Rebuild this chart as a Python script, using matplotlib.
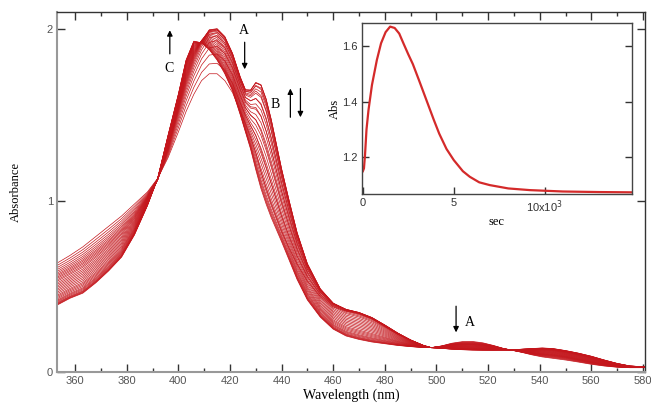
import numpy as np
import matplotlib.pyplot as plt

# wavelength grid (nm) and the three limiting spectra
wavelength = [353, 358, 363, 368, 373, 378, 383, 388, 392, 396, 400, 403, 406, 409,
              412, 415, 418, 421, 424, 426, 428, 430, 432, 434, 436, 438, 440, 443,
              446, 450, 455, 460, 465, 470, 475, 480, 485, 490, 495, 498, 502, 506,
              510, 514, 518, 522, 526, 529, 533, 537, 541, 545, 550, 555, 560, 565,
              570, 575, 581]

spec_A = [0.635, 0.68, 0.73, 0.79, 0.85, 0.91, 0.98, 1.05, 1.13, 1.25, 1.40, 1.52, 1.62, 1.70,
          1.74, 1.74, 1.70, 1.63, 1.52, 1.45, 1.37, 1.28, 1.17, 1.07, 0.98, 0.90, 0.82, 0.72,
          0.63, 0.53, 0.44, 0.38, 0.355, 0.34, 0.31, 0.265, 0.22, 0.185, 0.155, 0.142, 0.152, 0.168,
          0.177, 0.178, 0.17, 0.155, 0.137, 0.128, 0.115, 0.10, 0.088, 0.08, 0.07, 0.058, 0.045, 0.035,
          0.028, 0.025, 0.025]

spec_B = [0.57, 0.61, 0.655, 0.71, 0.77, 0.84, 0.92, 1.02, 1.12, 1.30, 1.52, 1.68, 1.82, 1.94,
          2.03, 2.05, 2.01, 1.91, 1.77, 1.70, 1.72, 1.80, 1.81, 1.73, 1.60, 1.44, 1.28, 1.07,
          0.87, 0.67, 0.51, 0.42, 0.38, 0.36, 0.33, 0.285, 0.235, 0.19, 0.155, 0.142, 0.15, 0.16,
          0.165, 0.165, 0.16, 0.15, 0.136, 0.128, 0.118, 0.108, 0.10, 0.095, 0.085, 0.07, 0.055, 0.042,
          0.032, 0.027, 0.027]

spec_C = [0.39, 0.43, 0.46, 0.52, 0.59, 0.67, 0.80, 0.97, 1.13, 1.38, 1.62, 1.82, 1.93, 1.92,
          1.88, 1.82, 1.74, 1.64, 1.50, 1.40, 1.30, 1.18, 1.07, 0.98, 0.90, 0.83, 0.76, 0.65,
          0.54, 0.42, 0.32, 0.25, 0.21, 0.19, 0.175, 0.165, 0.155, 0.148, 0.143, 0.142, 0.138, 0.133,
          0.13, 0.128, 0.127, 0.127, 0.128, 0.129, 0.133, 0.137, 0.14, 0.137, 0.125, 0.11, 0.092, 0.07,
          0.05, 0.035, 0.03]

# fraction of each species in every recorded trace
frac_A = [1.00, 0.80, 0.62, 0.47, 0.35, 0.25, 0.17, 0.11, 0.07, 0.04, 0.02, 0.01, 0, 0, 0, 0,
          0, 0, 0, 0, 0, 0, 0, 0, 0, 0, 0, 0, 0, 0, 0, 0]
frac_C = [0.00, 0.005, 0.01, 0.02, 0.035, 0.05, 0.07, 0.09, 0.12, 0.15, 0.19, 0.23, 0.28, 0.33,
          0.38, 0.43, 0.48, 0.53, 0.58, 0.63, 0.68, 0.72, 0.76, 0.80, 0.84, 0.87, 0.90, 0.93,
          0.95, 0.97, 0.985, 1.00]

# inset kinetic trace
time_s = [0, 60, 120, 200, 310, 500, 770, 1000, 1250, 1500, 1750, 2000, 2230, 2500, 2750, 3100,
          3500, 3900, 4200, 4600, 5000, 5500, 5880, 6400, 6980, 8000, 9180, 11000, 13000, 14800]
abs_t = [1.15, 1.16, 1.21, 1.30, 1.37, 1.46, 1.55, 1.61, 1.65, 1.67, 1.665, 1.645, 1.61, 1.57,
         1.535, 1.475, 1.405, 1.335, 1.285, 1.23, 1.19, 1.15, 1.13, 1.11, 1.10, 1.088, 1.082,
         1.077, 1.075, 1.074]

red = '#c4161c'
serif = ['Liberation Serif', 'DejaVu Serif']
sans = ['Liberation Sans', 'DejaVu Sans']

fig = plt.figure(figsize=(6.51, 4.04), dpi=100)
ax = fig.add_axes([0.0876, 0.0792, 0.9032, 0.891])

wl = np.array(wavelength)
sA, sB, sC = np.array(spec_A), np.array(spec_B), np.array(spec_C)
for a, c in zip(frac_A, frac_C):
    b = 1 - a - c
    ax.plot(wl, a * sA + b * sB + c * sC, color=red, lw=0.5)

ax.set_xlim(353, 580.8)
ax.set_ylim(0, 2.1)
ax.set_xticks(range(360, 581, 20))
ax.set_xticks(range(360, 581, 10), minor=True)
ax.set_yticks([0, 1, 2])
ax.tick_params(direction='in', top=True, right=True, length=6, width=1, colors='#333333',
               labelsize=8, labelcolor='#555555', pad=3)
ax.tick_params(which='minor', direction='in', top=True, length=3, width=1, colors='#333333')
for lab in ax.get_xticklabels() + ax.get_yticklabels():
    lab.set_family(sans)
for side in ['left', 'bottom']:
    ax.spines[side].set_color('#999999')
    ax.spines[side].set_linewidth(1.5)
for side in ['top', 'right']:
    ax.spines[side].set_color('#333333')
    ax.spines[side].set_linewidth(1.0)

ax.set_xlabel('Wavelength (nm)', family=serif, fontsize=10, labelpad=2)
ax.set_ylabel('Absorbance', family=serif, fontsize=9, labelpad=18)

arrow = dict(arrowstyle='-|>', color='black', lw=0.9, mutation_scale=8)
# C (up)
ax.annotate('', xy=(396.7, 2.01), xytext=(396.7, 1.84), arrowprops=arrow)
ax.text(396.5, 1.77, 'C', family=serif, fontsize=10, ha='center', va='center')
# A (down) near Soret
ax.annotate('', xy=(425.7, 1.75), xytext=(425.7, 1.94), arrowprops=arrow)
ax.text(425.5, 1.99, 'A', family=serif, fontsize=10, ha='center', va='center')
# B (up and down)
ax.text(437.7, 1.56, 'B', family=serif, fontsize=10, ha='center', va='center')
ax.annotate('', xy=(443.4, 1.67), xytext=(443.4, 1.47), arrowprops=arrow)
ax.annotate('', xy=(447.3, 1.47), xytext=(447.3, 1.67), arrowprops=arrow)
# A (down) in Q band
ax.annotate('', xy=(507.6, 0.215), xytext=(507.6, 0.40), arrowprops=arrow)
ax.text(513, 0.29, 'A', family=serif, fontsize=10, ha='center', va='center')

# inset
ins = fig.add_axes([0.556, 0.5198, 0.4147, 0.4233])
ins.plot(time_s, abs_t, color='#d42a2a', lw=1.6)
ins.set_xlim(-50, 14800)
ins.set_ylim(1.068, 1.683)
ins.set_xticks([0, 5000, 10000])
ins.set_xticklabels(['0', '5', '10x10$^{3}$'])
ins.set_yticks([1.2, 1.4, 1.6])
ins.tick_params(direction='in', right=True, length=5, width=1, colors='#333333',
                labelsize=8, labelcolor='#333333', pad=3)
for lab in ins.get_xticklabels() + ins.get_yticklabels():
    lab.set_family(sans)
for side in ins.spines:
    ins.spines[side].set_color('#444444')
    ins.spines[side].set_linewidth(1.0)
ins.set_xlabel('sec', family=serif, fontsize=9, labelpad=1)
ins.set_ylabel('Abs', family=serif, fontsize=9, labelpad=1)

fig.savefig('out.png', dpi=100)
